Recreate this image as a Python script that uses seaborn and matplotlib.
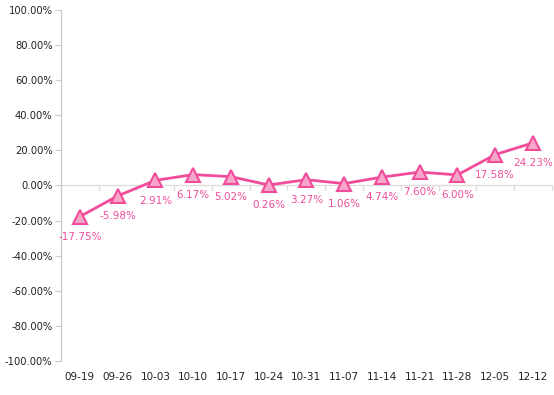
import matplotlib
matplotlib.use("Agg")
import matplotlib.pyplot as plt
import seaborn as sns
import pandas as pd
import numpy as np

categories = ["09-19", "09-26", "10-03", "10-10", "10-17", "10-24", "10-31",
              "11-07", "11-14", "11-21", "11-28", "12-05", "12-12"]
values = [-17.75, -5.98, 2.91, 6.17, 5.02, 0.26, 3.27, 1.06, 4.74, 7.60, 6.00, 17.58, 24.23]
yticks = [-100, -80, -60, -40, -20, 0, 20, 40, 60, 80, 100]

sns.set_theme(style="white")
plt.rcParams['font.family'] = ['DejaVu Sans']

df = pd.DataFrame({"date": categories, "value": values})
df["x"] = np.arange(len(categories))

fig = plt.figure(figsize=(5.54, 3.95), dpi=100)
ax = fig.add_axes([0.110, 0.086, 0.886, 0.889])

line_c = "#F04C9A"
sns.lineplot(data=df, x="x", y="value", ax=ax, color=line_c, linewidth=2,
             marker="^", markersize=10, markerfacecolor="#F7A6C9",
             markeredgecolor=line_c, markeredgewidth=1.5)

for xi, v in zip(df["x"], df["value"]):
    ax.annotate(f"{v:.2f}%", (xi, v), xytext=(0, -11), textcoords="offset points",
                ha="center", va="top", color="#EE4C9C", fontsize=7.5)

n = len(categories)
ax.set_xlim(-0.5, n - 0.5)
ax.set_ylim(-100, 100)
ax.axhline(0, color="#DDDDDD", linewidth=1, zorder=0)
for b in np.arange(0.5, n - 0.5, 1.0):
    ax.plot([b, b], [0, -2.5], color="#DDDDDD", linewidth=1, zorder=0)
ax.plot([n - 0.5, n - 0.5], [0, -2.5], color="#DDDDDD", linewidth=1, zorder=0, clip_on=False)

ax.set_xticks(df["x"])
ax.set_xticklabels(categories, fontsize=7.5, color="#222222")
ax.tick_params(axis="x", length=0, pad=8)
ax.set_yticks(yticks)
ax.set_yticklabels([f"{t:.2f}%" for t in yticks], fontsize=7.2, color="#222222")
ax.tick_params(axis="y", length=4, width=0.8, color="#CCCCCC", pad=2, direction="out", left=True)

for s in ["top", "right", "bottom"]:
    ax.spines[s].set_visible(False)
ax.spines["left"].set_color("#CCCCCC")
ax.spines["left"].set_linewidth(1)
ax.set_xlabel("")
ax.set_ylabel("")
ax.grid(False)

fig.savefig("out.png", dpi=100)
